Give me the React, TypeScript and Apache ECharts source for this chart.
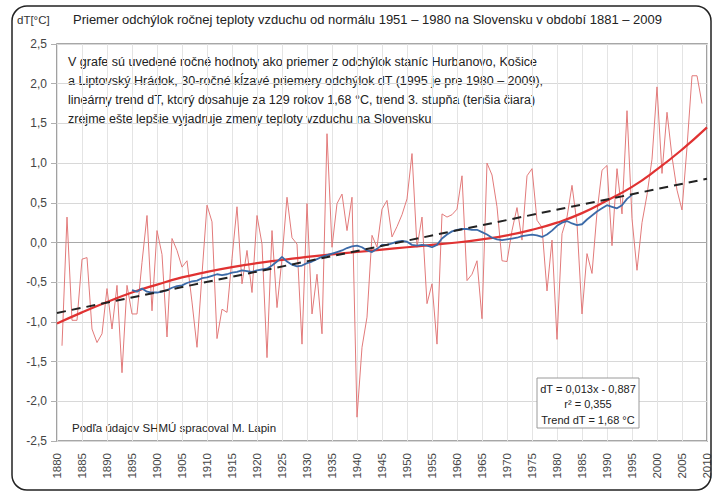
import React, { useEffect, useRef } from "react";
import * as echarts from "echarts";

const startYear = 1881;
const annual = [
  -1.30, 0.32, -0.98, -0.98, -0.21, -0.19, -1.09, -1.26, -1.15, -0.58,
  -1.09, -0.54, -1.64, -0.54, -0.90, -0.90, -0.25, 0.34, -0.86, 0.15,
  -0.15, -1.19, 0.05, -0.10, -0.31, -0.23, -0.75, -1.32, -0.40, 0.47,
  0.26, -1.21, -0.84, -0.88, -0.20, 0.45, -0.52, -0.10, -0.63, 0.34,
  -0.02, -1.45, 0.15, -0.82, -0.20, 0.57, 0.06, -0.02, -1.28, 0.49,
  -0.90, -0.40, -1.15, 1.37, -0.06, 0.49, 0.61, 0.15, 0.57, -2.20,
  -1.32, -0.94, 0.09, -0.06, 0.42, 0.53, 0.07, 0.20, 0.35, 0.55,
  1.12, -0.06, 0.32, -0.77, -0.52, -1.28, 0.36, 0.32, 0.35, 0.42,
  0.84, -0.48, -0.40, -0.23, -0.96, 1.00, 0.85, 0.45, -0.23, -0.24,
  0.15, 0.44, 0.03, 0.84, 0.93, 0.28, 0.19, -0.61, 0.03, -1.22,
  0.11, 0.32, 0.72, 0.24, -0.90, -0.14, -0.39, 0.38, 0.91, 0.97,
  -0.04, 0.93, 0.36, 1.66, 0.30, -0.35, 0.25, 0.60, 1.05, 1.96,
  0.87, 1.64, 1.08, 0.66, 0.41, 1.20, 2.10, 2.10, 1.75,
];

const movingStart = 1895;
const moving30 = [
  -0.60, -0.62, -0.58, -0.62, -0.63, -0.63, -0.62, -0.60, -0.57, -0.55,
  -0.54, -0.51, -0.49, -0.48, -0.45, -0.44, -0.42, -0.40, -0.41, -0.40,
  -0.38, -0.37, -0.35, -0.36, -0.37, -0.35, -0.34, -0.33, -0.29, -0.24,
  -0.18, -0.24, -0.28, -0.30, -0.29, -0.26, -0.24, -0.21, -0.18, -0.16,
  -0.14, -0.12, -0.10, -0.07, -0.05, -0.04, -0.06, -0.10, -0.12, -0.08,
  -0.03, -0.03, -0.01, 0.01, 0.02, 0.01, -0.03, -0.04, -0.03, -0.04,
  -0.06, -0.03, 0.05, 0.10, 0.14, 0.16, 0.17, 0.17, 0.16, 0.16,
  0.13, 0.10, 0.06, 0.04, 0.03, 0.04, 0.05, 0.06, 0.08, 0.09,
  0.10, 0.09, 0.07, 0.10, 0.15, 0.21, 0.25, 0.27, 0.24, 0.22,
  0.23, 0.29, 0.34, 0.39, 0.43, 0.47, 0.45, 0.43, 0.47, 0.55,
  0.60,
];

const polyYears = [1880, 1885, 1890, 1895, 1900, 1905, 1910, 1915, 1920, 1925, 1930, 1935, 1940, 1945, 1950, 1955, 1960, 1965, 1970, 1975, 1980, 1985, 1990, 1995, 2000, 2005, 2010];
const polyValues = [-1.02, -0.88, -0.75, -0.63, -0.53, -0.44, -0.37, -0.31, -0.26, -0.22, -0.18, -0.15, -0.12, -0.09, -0.06, -0.03, 0.0, 0.04, 0.09, 0.16, 0.25, 0.37, 0.53, 0.70, 0.92, 1.17, 1.45];

const linYears = [1880, 2010];
const linValues = [-0.887, 0.803];

const titleText = "Priemer odchýlok ročnej teploty vzduchu od normálu 1951 – 1980 na Slovensku v období 1881 – 2009";
const yAxisUnit = "dT[°C]";
const noteLines = [
  "V grafe sú uvedené ročné hodnoty ako priemer z odchýlok staníc Hurbanovo, Košice",
  "a Liptovský Hrádok, 30-ročné kĺzavé priemery odchýlok dT (1995 je pre 1980 – 2009),",
  "lineárny trend dT, ktorý dosahuje za 129 rokov 1,68 °C, trend 3. stupňa (tenšia čiara)",
  "zrejme ešte lepšie vyjadruje zmeny teploty vzduchu na Slovensku",
];
const eqLines = ["dT = 0,013x - 0,887", "r² = 0,355", "Trend dT = 1,68 °C"];
const sourceText = "Podľa údajov SHMÚ spracoval M. Lapin";

const FONT = "'Liberation Sans', Arial, sans-serif";

export default function App() {
  const ref = useRef<HTMLDivElement>(null);
  useEffect(() => {
    const chart = echarts.init(ref.current!, null, { renderer: "svg" });
    const annualData = annual.map((v, i) => [startYear + i, v]);
    const movingData = moving30.map((v, i) => [movingStart + i, v]);
    const polyData = polyYears.map((y, i) => [y, polyValues[i]]);
    const linData = linYears.map((y, i) => [y, linValues[i]]);
    chart.setOption({
      animation: false,
      backgroundColor: "#fff",
      grid: {
        left: 57,
        right: 8,
        top: 44,
        bottom: 53,
        show: true,
        borderColor: "#8a8a8a",
        borderWidth: 1.6,
        backgroundColor: "transparent",
      },
      xAxis: {
        type: "value",
        min: 1880,
        max: 2010,
        interval: 5,
        axisLine: { show: false },
        axisTick: { show: false },
        axisLabel: {
          rotate: 90,
          margin: 12,
          fontSize: 11.5,
          color: "#444",
          fontFamily: FONT,
          formatter: (v: number) => String(v),
        },
        splitLine: { show: true, lineStyle: { color: "#e4e4e4", width: 1 } },
      },
      yAxis: {
        type: "value",
        min: -2.5,
        max: 2.5,
        interval: 0.5,
        axisLine: { show: false },
        axisTick: { show: true, inside: false, length: 6, lineStyle: { color: "#b0b0b0" } },
        axisLabel: {
          margin: 10,
          fontSize: 12,
          color: "#444",
          fontFamily: FONT,
          formatter: (v: number) => v.toFixed(1).replace(".", ","),
        },
        splitLine: {
          show: true,
          lineStyle: { color: "#d8d8d8", width: 1 },
        },
      },
      series: [
        {
          type: "line",
          data: annualData,
          showSymbol: false,
          lineStyle: { color: "#e27a7a", width: 1 },
          z: 2,
        },
        {
          type: "line",
          data: polyData,
          showSymbol: false,
          smooth: true,
          lineStyle: { color: "#e03232", width: 2.2 },
          z: 3,
        },
        {
          type: "line",
          data: movingData,
          showSymbol: false,
          lineStyle: { color: "#3b6aa8", width: 1.8 },
          z: 4,
        },
        {
          type: "line",
          data: linData,
          showSymbol: false,
          lineStyle: { color: "#222", width: 2, type: [9, 6] },
          z: 5,
        },
        {
          type: "line",
          data: [[1880, 0], [2010, 0]],
          showSymbol: false,
          silent: true,
          lineStyle: { color: "#a8a8a8", width: 1.2 },
          z: 1,
        },
      ],
      graphic: [
        {
          type: "rect",
          shape: { x: 12, y: 6, width: 699, height: 484, r: 15 },
          style: { fill: "none", stroke: "#222", lineWidth: 1.5 },
          z: 10,
        },
        {
          type: "text",
          left: 17,
          top: 14,
          style: { text: yAxisUnit, font: `11.5px ${FONT}`, fill: "#333" },
        },
        {
          type: "text",
          left: 73,
          top: 13,
          style: { text: titleText, font: `13px ${FONT}`, fill: "#222" },
        },
        {
          type: "text",
          left: 68,
          top: 53,
          style: {
            text: noteLines.join("\n"),
            font: `12.5px ${FONT}`,
            lineHeight: 18.8,
            fill: "#222",
          },
        },
        {
          type: "text",
          left: 72,
          top: 422,
          style: { text: sourceText, font: `11.5px ${FONT}`, fill: "#222" },
        },
        {
          type: "rect",
          shape: { x: 537, y: 378, width: 102, height: 50 },
          style: { fill: "#fff", stroke: "#9a9a9a", lineWidth: 1 },
          z: 10,
        },
        {
          type: "text",
          x: 588,
          y: 381,
          z: 11,
          style: {
            text: eqLines.join("\n"),
            font: `11px ${FONT}`,
            lineHeight: 15.5,
            fill: "#222",
            align: "center",
            verticalAlign: "top",
          },
        },
      ],
    });
    return () => chart.dispose();
  }, []);
  return (
    <div
      ref={ref}
      style={{ position: "absolute", left: 0, top: 0, width: 715, height: 494 }}
    />
  );
}
